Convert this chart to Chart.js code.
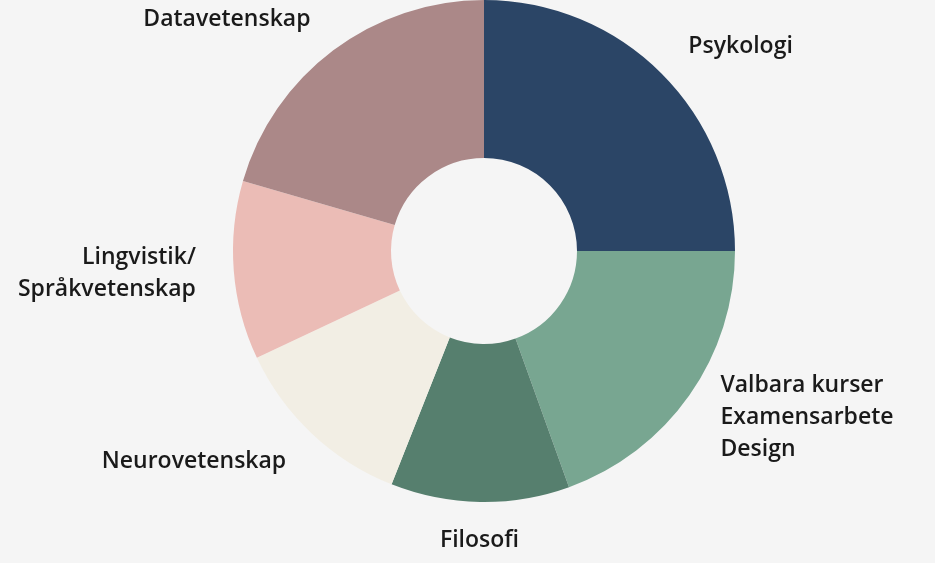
<!DOCTYPE html>
<html>
<head>
<meta charset="utf-8">
<script src="https://cdn.jsdelivr.net/npm/chart.js@4"></script>
<style>
  html, body { margin: 0; padding: 0; background: #f5f5f5; }
  #wrap { width: 935px; height: 563px; }
</style>
</head>
<body>
<div id="wrap"><canvas id="c"></canvas></div>
<script>
const categories = [
  ["Psykologi"],
  ["Valbara kurser", "Examensarbete", "Design"],
  ["Filosofi"],
  ["Neurovetenskap"],
  ["Lingvistik/", "Språkvetenskap"],
  ["Datavetenskap"]
];
const shares = [25, 19.5, 11.5, 12, 11.5, 20.5];
const colors = ["#2b4566", "#78a691", "#567f6e", "#f2eee4", "#ebbcb6", "#ab8888"];

// draws category names outside each slice
const outsideLabels = {
  id: "outsideLabels",
  afterDatasetsDraw(chart) {
    const ctx = chart.ctx;
    const meta = chart.getDatasetMeta(0);
    ctx.save();
    ctx.font = "600 23px 'Open Sans', sans-serif";
    ctx.fillStyle = "#1a1a1a";
    ctx.textBaseline = "middle";
    meta.data.forEach((arc, i) => {
      const p = arc.getProps(["x", "y", "startAngle", "endAngle", "outerRadius"], true);
      const mid = (p.startAngle + p.endAngle) / 2;
      const r = p.outerRadius + 38;
      const x = p.x + Math.cos(mid) * r;
      const y = p.y + Math.sin(mid) * r;
      const cos = Math.cos(mid);
      ctx.textAlign = Math.abs(cos) < 0.1 ? "center" : (cos > 0 ? "left" : "right");
      const lines = categories[i];
      const lh = 32;
      lines.forEach((t, k) => {
        ctx.fillText(t, x, y + (k - (lines.length - 1) / 2) * lh);
      });
    });
    ctx.restore();
  }
};

new Chart(document.getElementById("c"), {
  type: "doughnut",
  data: {
    labels: categories.map((c) => c.join(" ")),
    datasets: [{
      data: shares,
      backgroundColor: colors,
      borderWidth: 0
    }]
  },
  options: {
    animation: false,
    responsive: true,
    maintainAspectRatio: false,
    radius: 251,
    cutout: 93,
    layout: { padding: { left: 33, right: 0, top: 0, bottom: 61 } },
    plugins: {
      legend: { display: false },
      tooltip: { enabled: false }
    }
  },
  plugins: [outsideLabels]
});
</script>
</body>
</html>
